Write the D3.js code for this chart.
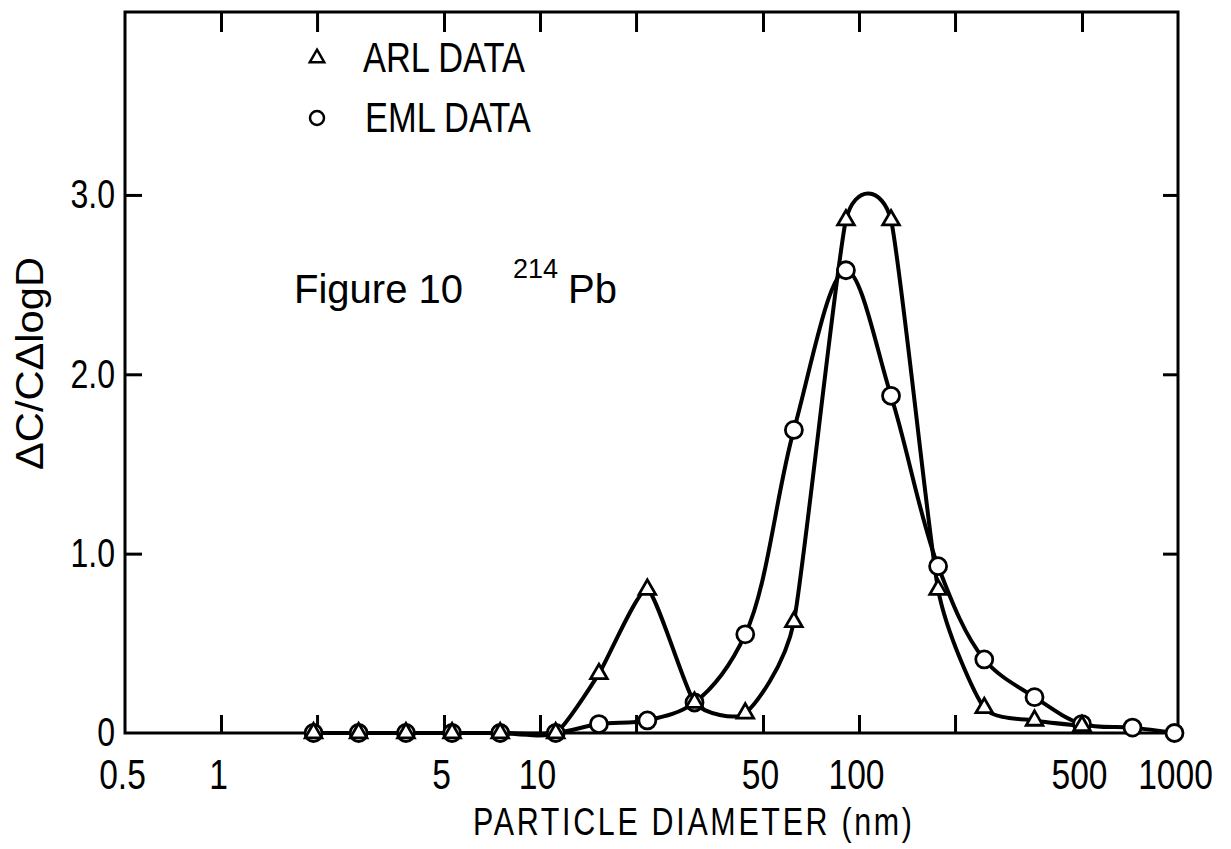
<!DOCTYPE html>
<html>
<head>
<meta charset="utf-8">
<script src="https://cdn.jsdelivr.net/npm/d3@7"></script>
<style>
  body { margin: 0; background: #fff; }
  svg { display: block; }
  .plot { font-family: "Liberation Sans", Arial, sans-serif; }
  .fig { font-family: "Liberation Sans", Arial, sans-serif; }
</style>
</head>
<body>
<svg width="1231" height="849"></svg>
<script>
// particle diameter (nm) of each size channel
var diameters = [1.95, 2.7, 3.8, 5.3, 7.5, 11.2, 15.3, 21.7, 30.5, 44, 62.5, 91, 126, 177, 247, 355, 500, 720, 975]
// EML data, one value per channel
var emlValues = [0, 0, 0, 0, 0, 0, 0.05, 0.07, 0.17, 0.55, 1.69, 2.58, 1.88, 0.93, 0.41, 0.20, 0.05, 0.03, 0]
// ARL data stops at 500 nm
var arlValues = [0, 0, 0, 0, 0, 0, 0.33, 0.80, 0.17, 0.11, 0.62, 2.86, 2.86, 0.80, 0.14, 0.07, 0.04]

var xTicks = [1, 2, 5, 10, 20, 50, 100, 200, 500]
var xLabels = [0.5, 1, 5, 10, 50, 100, 500, 1000]
var xLabelText = ['0.5', '1', '5', '10', '50', '100', '500', '1000']
var yTicks = [1, 2, 3]
var yLabels = [0, 1, 2, 3]
var yLabelText = ['0', '1.0', '2.0', '3.0']

var svg = d3.select('svg'),
    x0 = 125, x1 = 1178, y0 = 733, y1 = 12,
    narrow = 0.8  // the plotter lettering is condensed

var x = d3.scaleLog().domain([0.5, 1000]).range([x0, x1])
var y = d3.scaleLinear().domain([0, 4.02]).range([y0, y1])

var eml = diameters.map(function (d, i) { return [d, emlValues[i]] })
var arl = arlValues.map(function (v, i) { return [diameters[i], v] })

var g = svg.append('g').attr('class', 'plot')

// frame
g.append('rect')
  .attr('x', x0).attr('y', y1)
  .attr('width', x1 - x0).attr('height', y0 - y1)
  .attr('fill', 'none').attr('stroke', '#000').attr('stroke-width', 3)

function ticksOnly (axis, tx, ty, len) {
  var a = g.append('g').attr('transform', 'translate(' + tx + ',' + ty + ')')
    .call(axis.tickSize(len).tickFormat(''))
  a.select('.domain').remove()
  a.selectAll('line').attr('stroke', '#000').attr('stroke-width', 3)
}
ticksOnly(d3.axisBottom(x).tickValues(xTicks), 0, y0, -18)
ticksOnly(d3.axisTop(x).tickValues(xTicks), 0, y1, -20)
ticksOnly(d3.axisLeft(y).tickValues(yTicks), x0, 0, -17)
ticksOnly(d3.axisRight(y).tickValues(yTicks), x1, 0, -15)

// tick labels
var xl = g.append('g').attr('transform', 'translate(-3,' + y0 + ')')
  .call(d3.axisBottom(x).tickValues(xLabels).tickSize(0).tickPadding(26)
    .tickFormat(function (d, i) { return xLabelText[i] }))
xl.select('.domain').remove()
xl.selectAll('text').attr('font-size', 42).attr('fill', '#000')
  .attr('transform', 'scale(' + narrow + ',1)')

var yl = g.append('g').attr('transform', 'translate(' + x0 + ',0)')
  .call(d3.axisLeft(y).tickValues(yLabels).tickSize(0).tickPadding(10)
    .tickFormat(function (d, i) { return yLabelText[i] }))
yl.select('.domain').remove()
yl.selectAll('.tick text').each(function () {
  // scale about the right edge so the labels stay flush to the axis
  d3.select(this).attr('x', -10 / narrow).attr('transform', 'scale(' + narrow + ',1)')
})
yl.selectAll('text').attr('font-size', 40).attr('fill', '#000')

// axis titles
g.append('text')
  .attr('transform', 'translate(473,835) scale(' + narrow + ',1)')
  .attr('font-size', 38)
  .attr('textLength', 439 / narrow).attr('lengthAdjust', 'spacing')
  .text('PARTICLE DIAMETER (nm)')

g.append('text')
  .attr('transform', 'translate(43,470) rotate(-90)')
  .attr('font-size', 39)
  .attr('textLength', 213).attr('lengthAdjust', 'spacingAndGlyphs')
  .text('\u0394C/C\u0394logD')

// curves, drawn with a french-curve look
var line = d3.line()
  .x(function (d) { return x(d[0]) })
  .y(function (d) { return y(d[1]) })

g.append('path').datum(eml)
  .attr('d', line.curve(d3.curveCatmullRom.alpha(0.5)))
  .attr('fill', 'none').attr('stroke', '#000')
  .attr('stroke-width', 4).attr('stroke-linejoin', 'round')

g.append('path').datum(arl)
  .attr('d', line.curve(d3.curveCardinal.tension(0.45)))
  .attr('fill', 'none').attr('stroke', '#000')
  .attr('stroke-width', 4).attr('stroke-linejoin', 'round')

var tri = d3.symbol().type(d3.symbolTriangle).size(120)

g.selectAll('.eml').data(eml).enter().append('circle')
  .attr('class', 'eml')
  .attr('cx', function (d) { return x(d[0]) })
  .attr('cy', function (d) { return y(d[1]) })
  .attr('r', 8.5)
  .attr('fill', '#fff').attr('stroke', '#000').attr('stroke-width', 2.8)

g.selectAll('.arl').data(arl).enter().append('path')
  .attr('class', 'arl')
  .attr('d', tri)
  .attr('transform', function (d) { return 'translate(' + x(d[0]) + ',' + y(d[1]) + ')' })
  .attr('fill', '#fff').attr('stroke', '#000').attr('stroke-width', 2.8)

// legend
g.append('path').attr('d', d3.symbol().type(d3.symbolTriangle).size(90))
  .attr('transform', 'translate(317,58)')
  .attr('fill', '#fff').attr('stroke', '#000').attr('stroke-width', 2.5)
g.append('text').attr('transform', 'translate(363,72) scale(0.82,1)')
  .attr('font-size', 42).text('ARL DATA')
g.append('circle').attr('cx', 317).attr('cy', 118).attr('r', 7)
  .attr('fill', '#fff').attr('stroke', '#000').attr('stroke-width', 2.5)
g.append('text').attr('transform', 'translate(365,132) scale(0.82,1)')
  .attr('font-size', 42).text('EML DATA')

// figure caption
var f = svg.append('g').attr('class', 'fig')
f.append('text').attr('x', 463).attr('y', 303).attr('text-anchor', 'end')
  .attr('font-size', 40).text('Figure  10')
f.append('text').attr('x', 513).attr('y', 278).attr('font-size', 27).text('214')
f.append('text').attr('x', 568).attr('y', 303).attr('font-size', 40).text('Pb')
</script>
</body>
</html>
